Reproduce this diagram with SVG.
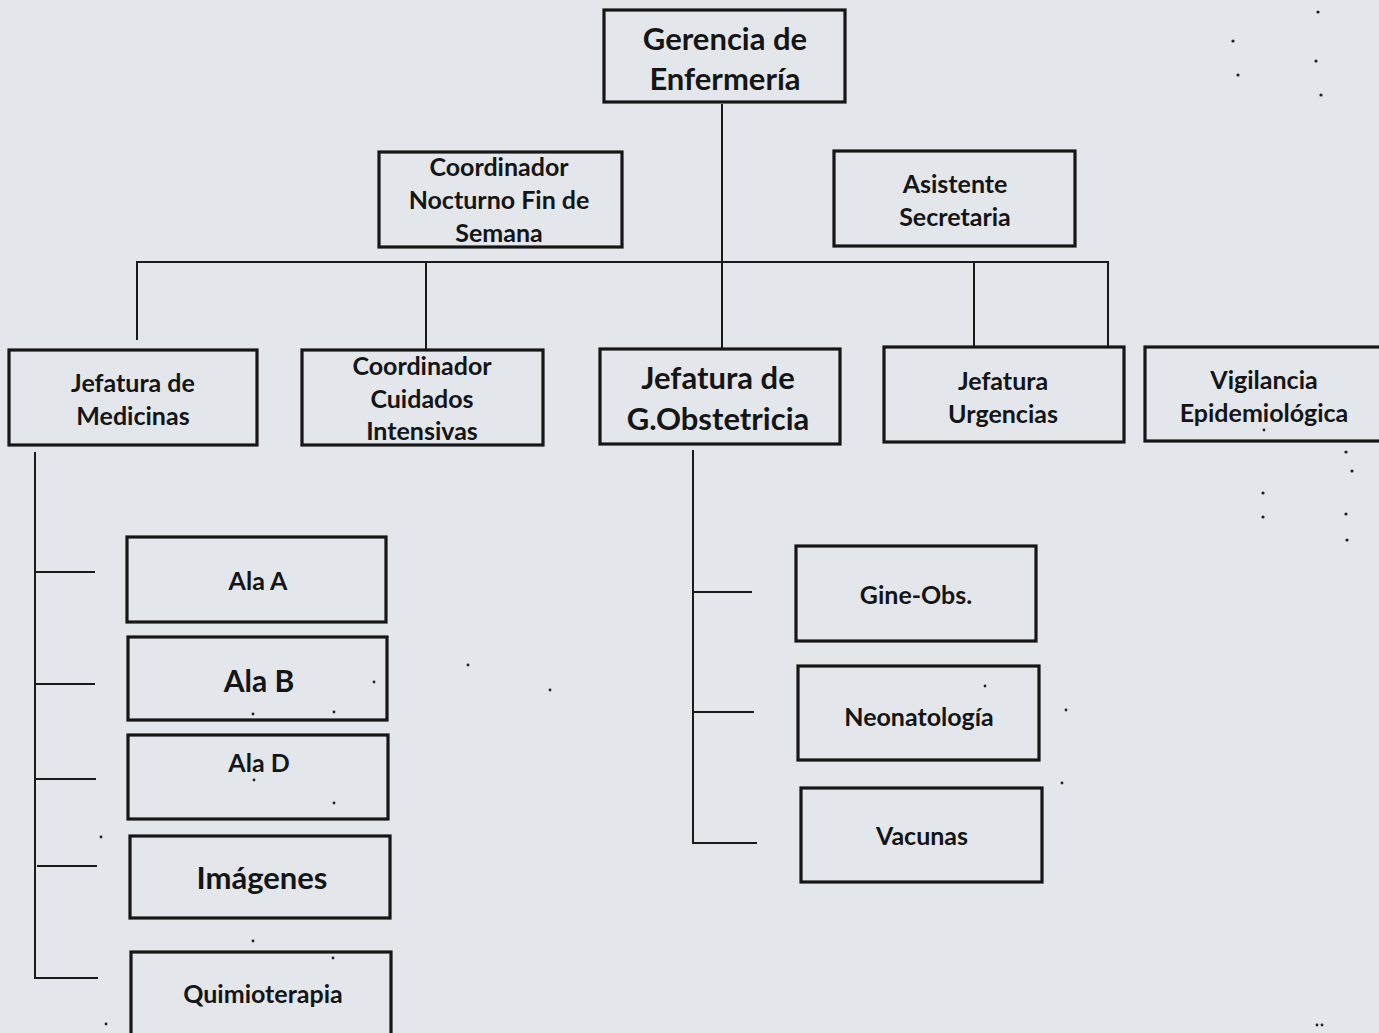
<svg xmlns="http://www.w3.org/2000/svg" width="1379" height="1033" viewBox="0 0 1379 1033">
<style>
.bg{fill:#e3e6eb}
.box{fill:#e3e6eb;stroke:#161616;stroke-width:3.2}
.ln{stroke:#1a1a1a;stroke-width:2;fill:none}
.t{font-family:Lato,"Open Sans","Noto Sans",sans-serif;fill:#151515;text-anchor:middle;dominant-baseline:central}
.s{font-size:25px;font-weight:700}
.l{font-size:31px;font-weight:700}
.m{font-size:30px;font-weight:700}
.dot{fill:#222}
</style>
<rect class="bg" x="0" y="0" width="1379" height="1033"/>
<g id="connectors">
<path class="ln" d="M722 104 V349"/>
<path class="ln" d="M137 340 V262 H1108 V347"/>
<path class="ln" d="M426 262 V350"/>
<path class="ln" d="M974 262 V347"/>
<path class="ln" d="M35 452 V978 H98"/>
<path class="ln" d="M35 572 H95 M35 684 H95 M36 779 H96 M37 866 H97"/>
<path class="ln" d="M693 450 V843 H757"/>
<path class="ln" d="M693 592 H752 M694 712 H754"/>
</g>
<g id="gerencia"><rect class="box" x="604" y="10" width="241" height="92"/><text class="t l" x="725" y="38">Gerencia de</text><text class="t l" x="725" y="78">Enfermería</text></g>
<g id="coord-nocturno"><rect class="box" x="379" y="152" width="243" height="95"/><text class="t s" x="499" y="166">Coordinador</text><text class="t s" x="499" y="199">Nocturno Fin de</text><text class="t s" x="499" y="232">Semana</text></g>
<g id="asistente"><rect class="box" x="834" y="151" width="241" height="95"/><text class="t s" x="955" y="183">Asistente</text><text class="t s" x="955" y="216">Secretaria</text></g>
<g id="medicinas"><rect class="box" x="9" y="350" width="248" height="95"/><text class="t s" x="133" y="382">Jefatura de</text><text class="t s" x="133" y="415">Medicinas</text></g>
<g id="cuidados"><rect class="box" x="302" y="350" width="241" height="95"/><text class="t s" x="422" y="365">Coordinador</text><text class="t s" x="422" y="398">Cuidados</text><text class="t s" x="422" y="430">Intensivas</text></g>
<g id="obstetricia"><rect class="box" x="600" y="349" width="240" height="95"/><text class="t l" x="718" y="377">Jefatura de</text><text class="t l" x="718" y="418">G.Obstetricia</text></g>
<g id="urgencias"><rect class="box" x="884" y="347" width="240" height="95"/><text class="t s" x="1003" y="380">Jefatura</text><text class="t s" x="1003" y="413">Urgencias</text></g>
<g id="vigilancia"><rect class="box" x="1145" y="347" width="240" height="94"/><text class="t s" x="1264" y="379">Vigilancia</text><text class="t s" x="1264" y="412">Epidemiológica</text></g>
<g id="ala-a"><rect class="box" x="127" y="537" width="259" height="85"/><text class="t s" x="258" y="580">Ala A</text></g>
<g id="ala-b"><rect class="box" x="128" y="637" width="259" height="83"/><text class="t m" x="259" y="680">Ala B</text></g>
<g id="ala-d"><rect class="box" x="128" y="735" width="260" height="84"/><text class="t s" x="259" y="762">Ala D</text></g>
<g id="imagenes"><rect class="box" x="130" y="836" width="260" height="82"/><text class="t l" x="262" y="877">Imágenes</text></g>
<g id="quimioterapia"><rect class="box" x="131" y="952" width="260" height="90"/><text class="t s" x="263" y="993">Quimioterapia</text></g>
<g id="gine-obs"><rect class="box" x="796" y="546" width="240" height="95"/><text class="t s" x="916" y="594">Gine-Obs.</text></g>
<g id="neonatologia"><rect class="box" x="798" y="666" width="241" height="94"/><text class="t s" x="919" y="716">Neonatología</text></g>
<g id="vacunas"><rect class="box" x="801" y="788" width="241" height="94"/><text class="t s" x="922" y="835">Vacunas</text></g>
<g id="specks">
<circle class="dot" cx="1318" cy="12" r="1.6"/><circle class="dot" cx="1233" cy="41" r="1.6"/><circle class="dot" cx="1316" cy="61" r="1.6"/><circle class="dot" cx="1238" cy="75" r="1.6"/><circle class="dot" cx="1321" cy="95" r="1.6"/>
<circle class="dot" cx="1264" cy="430" r="1.4"/><circle class="dot" cx="1346" cy="452" r="1.6"/><circle class="dot" cx="1352" cy="471" r="1.6"/><circle class="dot" cx="1263" cy="493" r="1.6"/><circle class="dot" cx="1263" cy="517" r="1.6"/><circle class="dot" cx="1346" cy="514" r="1.6"/><circle class="dot" cx="1347" cy="540" r="1.6"/>
<circle class="dot" cx="468" cy="665" r="1.4"/><circle class="dot" cx="550" cy="690" r="1.4"/><circle class="dot" cx="334" cy="712" r="1.4"/><circle class="dot" cx="374" cy="682" r="1.4"/><circle class="dot" cx="253" cy="714" r="1.4"/><circle class="dot" cx="334" cy="803" r="1.4"/><circle class="dot" cx="254" cy="780" r="1.4"/><circle class="dot" cx="101" cy="837" r="1.4"/><circle class="dot" cx="253" cy="941" r="1.4"/><circle class="dot" cx="333" cy="958" r="1.4"/><circle class="dot" cx="106" cy="1024" r="1.4"/>
<circle class="dot" cx="985" cy="686" r="1.4"/><circle class="dot" cx="1066" cy="710" r="1.4"/><circle class="dot" cx="1062" cy="783" r="1.4"/><circle class="dot" cx="1317" cy="1025" r="1.4"/><circle class="dot" cx="1322" cy="1025" r="1.4"/>
</g>
</svg>
